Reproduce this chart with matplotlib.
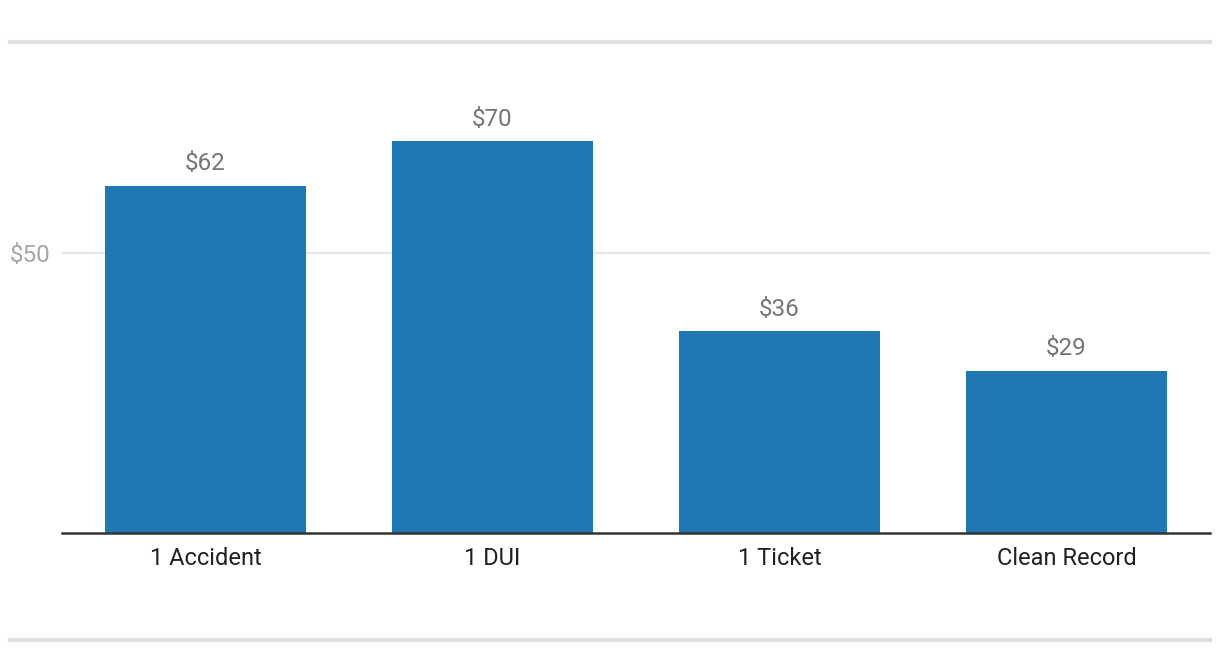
import matplotlib.pyplot as plt
from matplotlib.lines import Line2D

plt.rcParams['font.family'] = ['Roboto', 'DejaVu Sans']

categories = ["1 Accident", "1 DUI", "1 Ticket", "Clean Record"]
values = [62, 70, 36, 29]
labels = ["$62", "$70", "$36", "$29"]

W, H = 1220, 672
fig = plt.figure(figsize=(W / 100, H / 100), dpi=100)
ax = fig.add_axes([62 / W, (H - 533) / H, (1210 - 62) / W, (533 - 74) / H])

x = range(len(categories))
ax.bar(x, values, width=0.697, color="#1f77b4", zorder=2)
for i, v in enumerate(values):
    ax.text(i, v + 1.9, labels[i], ha="center", va="bottom",
            fontsize=17.5, color="#757575")

ax.set_xlim(-0.5, len(categories) - 0.5)
ax.set_ylim(0, 82)
ax.set_yticks([50])
ax.set_yticklabels(["$50"])
ax.yaxis.grid(True, color="#e6e6e6", linewidth=1.5, zorder=0)
ax.set_xticks(list(x))
ax.set_xticklabels(categories)
ax.tick_params(axis="x", length=0, labelsize=17, labelcolor="#212121", pad=10)
ax.tick_params(axis="y", length=0, labelsize=17.5, labelcolor="#a6a6a6", pad=8)
for s in ["top", "right", "left"]:
    ax.spines[s].set_visible(False)
ax.spines["bottom"].set_color("#333333")
ax.spines["bottom"].set_linewidth(1.8)

# top and bottom separator lines
for yy in [42, 640]:
    fig.add_artist(Line2D([10 / W, 1210 / W], [1 - yy / H, 1 - yy / H],
                          color="#e0e0e0", linewidth=3))

fig.savefig("out.png", dpi=100)
